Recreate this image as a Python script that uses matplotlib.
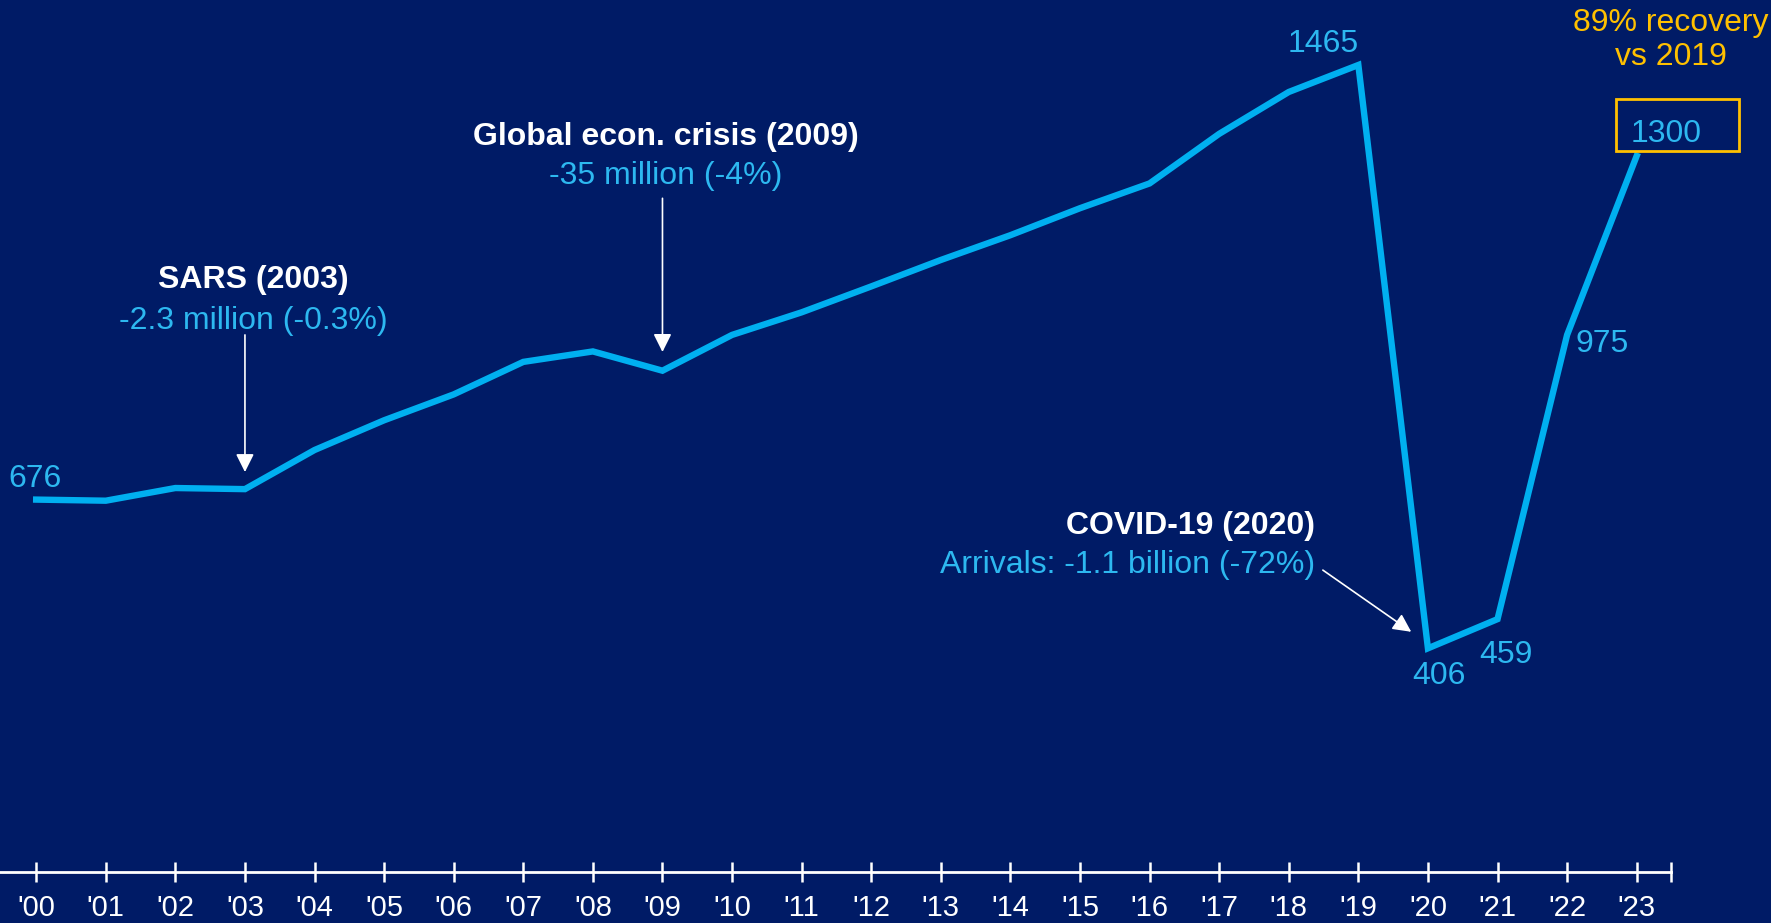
import matplotlib.pyplot as plt
import matplotlib.patches as patches
import numpy as np

# international tourist arrivals (million)
years = ["'00", "'01", "'02", "'03", "'04", "'05", "'06", "'07", "'08", "'09", "'10", "'11",
         "'12", "'13", "'14", "'15", "'16", "'17", "'18", "'19", "'20", "'21", "'22", "'23"]
arrivals = [676, 674, 697, 695, 766, 820, 867, 926, 945, 910, 975, 1016,
            1063, 1111, 1156, 1205, 1250, 1340, 1416, 1465, 406, 459, 975, 1300]

# which points get a number next to them
labelled = {0: '676', 19: '1465', 20: '406', 21: '459', 22: '975', 23: '1300'}

bg = '#001B66'
blue = '#00B0F0'
txtblue = '#2DB8F0'
gold = '#FFC000'

plt.rcParams['font.family'] = ['Liberation Sans', 'DejaVu Sans']

fig = plt.figure(figsize=(17.71, 9.23), dpi=100, facecolor=bg)
ax = fig.add_axes([0, 0.0553, 1, 0.9447])
ax.set_facecolor(bg)

x = np.arange(len(years))
ax.plot(x, arrivals, color=blue, lw=4.6, solid_joinstyle='miter', zorder=3)

ax.set_xlim(-0.52, 24.93)
ax.set_ylim(0, 1583)

# axis: only the bottom line with ticks crossing it
for s in ['top', 'left', 'right']:
    ax.spines[s].set_visible(False)
ax.spines['bottom'].set_color('white')
ax.spines['bottom'].set_linewidth(2)
ax.spines['bottom'].set_bounds(-0.52, 23.5)
ax.set_yticks([])
ax.set_xticks(x)
ax.set_xticklabels(years, color='white', fontsize=21)
ax.set_xticks([23.5], minor=True)
ax.tick_params(axis='x', which='both', direction='inout', length=14, width=1.8,
               color='white', pad=9)

fs = 23
# value labels
ax.text(-0.40, 713, labelled[0], color=txtblue, fontsize=fs, ha='left', va='center')
ax.text(18.5, 1504, labelled[19], color=txtblue, fontsize=fs, ha='center', va='center')
ax.text(20.16, 356, labelled[20], color=txtblue, fontsize=fs, ha='center', va='center')
ax.text(21.12, 393, labelled[21], color=txtblue, fontsize=fs, ha='center', va='center')
ax.text(22.51, 958, labelled[22], color=txtblue, fontsize=fs, ha='center', va='center')
ax.text(23.42, 1340, labelled[23], color=txtblue, fontsize=fs, ha='center', va='center')

# gold box round the 2023 value
ax.add_patch(patches.Rectangle((22.7, 1309), 1.77, 94, fill=False, edgecolor=gold,
                               lw=2, clip_on=False, zorder=4))
ax.text(23.49, 1510, '89% recovery\nvs 2019', color=gold, fontsize=fs, ha='center',
        va='center', linespacing=1.15, clip_on=False)

arrow = dict(arrowstyle='-|>,head_length=1.1,head_width=0.55', color='white',
             lw=1.2, shrinkA=0, shrinkB=0)

# events
ax.text(3.12, 1075, 'SARS (2003)', color='white', fontsize=fs, fontweight='bold',
        ha='center', va='center')
ax.text(3.12, 1000, '-2.3 million (-0.3%)', color=txtblue, fontsize=fs,
        ha='center', va='center')
ax.annotate('', xy=(3, 726), xytext=(3, 975), arrowprops=arrow)

ax.text(9.05, 1335, 'Global econ. crisis (2009)', color='white', fontsize=fs,
        fontweight='bold', ha='center', va='center')
ax.text(9.05, 1263, '-35 million (-4%)', color=txtblue, fontsize=fs,
        ha='center', va='center')
ax.annotate('', xy=(9, 944), xytext=(9, 1223), arrowprops=arrow)

ax.text(18.38, 628, 'COVID-19 (2020)', color='white', fontsize=fs,
        fontweight='bold', ha='right', va='center')
ax.text(18.38, 558, 'Arrivals: -1.1 billion (-72%)', color=txtblue, fontsize=fs,
        ha='right', va='center')
ax.annotate('', xy=(19.76, 436), xytext=(18.49, 548), arrowprops=arrow)

fig.savefig('out.png', dpi=100, facecolor=bg)
